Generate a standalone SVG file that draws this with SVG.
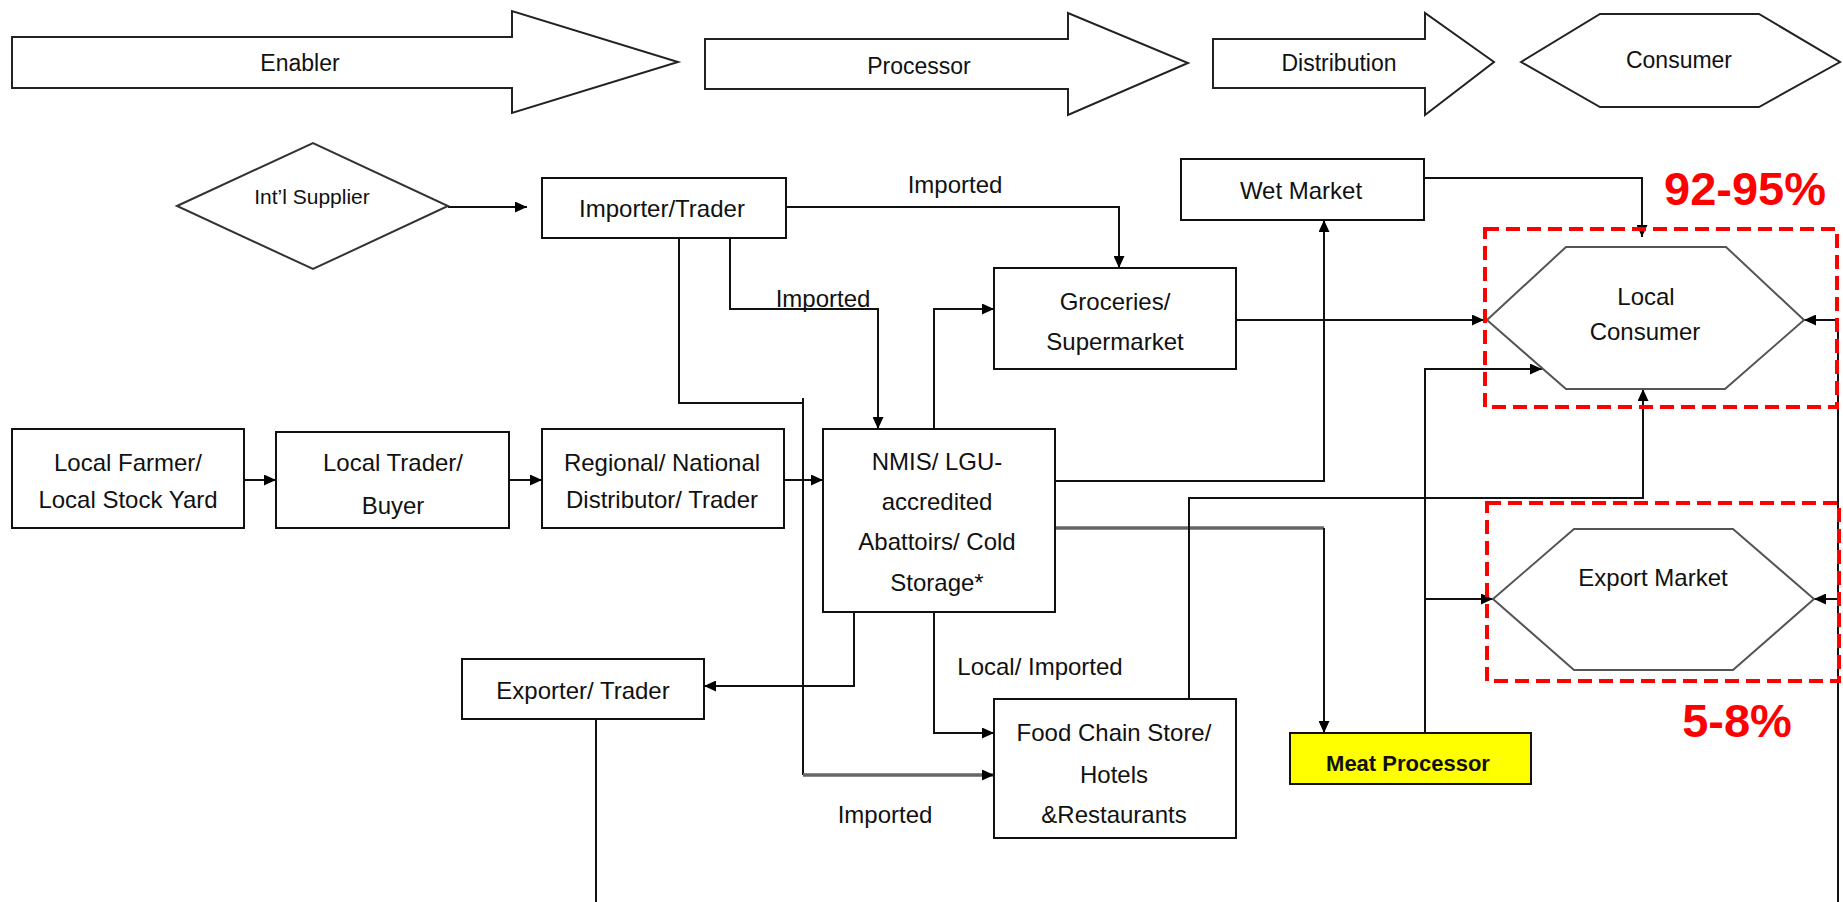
<svg xmlns="http://www.w3.org/2000/svg" width="1843" height="902" viewBox="0 0 1843 902">
<style>
.bg{fill:#fff}
.blk{fill:#fff;stroke:#222;stroke-width:2}
.box{fill:#fff;stroke:#111;stroke-width:2}
.hex{fill:#fff;stroke:#555;stroke-width:2}
.red{fill:none;stroke:#f00;stroke-width:4;stroke-dasharray:14 7}
.t{font-family:"Liberation Sans",Arial,sans-serif;font-size:24px;fill:#111;text-anchor:middle}
.h{font-size:23px}
.s{font-size:21px}
.b{font-weight:bold;font-size:22px}
.pct{font-family:"Liberation Sans",Arial,sans-serif;font-size:47px;font-weight:bold;fill:#f00;text-anchor:middle}
.c{fill:none;stroke:#111;stroke-width:2}
.g{fill:none;stroke:#666;stroke-width:3.5}
</style>
<defs>
<marker id="ah" markerUnits="userSpaceOnUse" markerWidth="12" markerHeight="11" refX="12" refY="5.5" orient="auto">
<path d="M0,0 L12,5.5 L0,11 z" fill="#000"/>
</marker>
</defs>
<rect class="bg" x="0" y="0" width="1843" height="902"/>

<g id="stage-enabler">
<polygon class="blk" points="12,37 512,37 512,11 678,62 512,113 512,88 12,88"/>
<text class="t h" x="300" y="71">Enabler</text>
</g>
<g id="stage-processor">
<polygon class="blk" points="705,39 1068,39 1068,13 1188,63 1068,115 1068,89 705,89"/>
<text class="t h" x="919" y="74">Processor</text>
</g>
<g id="stage-distribution">
<polygon class="blk" points="1213,39 1425,39 1425,13 1494,62 1425,115 1425,88 1213,88"/>
<text class="t h" x="1339" y="71">Distribution</text>
</g>
<g id="stage-consumer">
<polygon class="blk" points="1521,62 1600,14 1759,14 1840,62 1759,107 1600,107"/>
<text class="t h" x="1679" y="68">Consumer</text>
</g>

<g id="connectors">
<path class="c" d="M448,207 H527" marker-end="url(#ah)"/>
<path class="c" d="M786,207 H1119 V268" marker-end="url(#ah)"/>
<path class="c" d="M730,238 V309 H878 V429" marker-end="url(#ah)"/>
<path class="c" d="M679,238 V403 H803 V775"/>
<path class="c" d="M803,398 V403"/>
<path class="g" d="M803,775 H994" marker-end="url(#ah)"/>
<path class="c" d="M244,480 H276" marker-end="url(#ah)"/>
<path class="c" d="M509,480 H542" marker-end="url(#ah)"/>
<path class="c" d="M784,480 H823" marker-end="url(#ah)"/>
<path class="c" d="M934,429 V309 H994" marker-end="url(#ah)"/>
<path class="c" d="M1055,481 H1324 V220" marker-end="url(#ah)"/>
<path class="g" d="M1055,528 H1324"/>
<path class="c" d="M1324,528 V733" marker-end="url(#ah)"/>
<path class="c" d="M854,612 V686 H704" marker-end="url(#ah)"/>
<path class="c" d="M934,612 V733 H994" marker-end="url(#ah)"/>
<path class="c" d="M1236,320 H1484" marker-end="url(#ah)"/>
<path class="c" d="M1424,178 H1642 V237" marker-end="url(#ah)"/>
<path class="c" d="M1189,699 V498 H1643 V389" marker-end="url(#ah)"/>
<path class="c" d="M1425,733 V369 H1542" marker-end="url(#ah)"/>
<path class="c" d="M1425,599 H1493" marker-end="url(#ah)"/>
<path class="c" d="M596,719 V902"/>
<path class="c" d="M1838,902 V320 H1804" marker-end="url(#ah)"/>
<path class="c" d="M1838,599 H1814" marker-end="url(#ah)"/>
</g>

<g id="intl-supplier">
<polygon class="box" points="177,206 313,143 448,206 313,269" style="stroke:#333"/>
<text class="t s" x="312" y="204">Int’l Supplier</text>
</g>
<g id="importer-trader">
<rect class="box" x="542" y="178" width="244" height="60"/>
<text class="t" x="662" y="217">Importer/Trader</text>
</g>
<g id="wet-market">
<rect class="box" x="1181" y="159" width="243" height="61"/>
<text class="t" x="1301" y="199">Wet Market</text>
</g>
<g id="groceries">
<rect class="box" x="994" y="268" width="242" height="101"/>
<text class="t" x="1115" y="310">Groceries/</text>
<text class="t" x="1115" y="350">Supermarket</text>
</g>
<g id="local-farmer">
<rect class="box" x="12" y="429" width="232" height="99"/>
<text class="t" x="128" y="471">Local Farmer/</text>
<text class="t" x="128" y="508">Local Stock Yard</text>
</g>
<g id="local-trader">
<rect class="box" x="276" y="432" width="233" height="96"/>
<text class="t" x="393" y="471">Local Trader/</text>
<text class="t" x="393" y="514">Buyer</text>
</g>
<g id="regional-distributor">
<rect class="box" x="542" y="429" width="242" height="99"/>
<text class="t" x="662" y="471">Regional/ National</text>
<text class="t" x="662" y="508">Distributor/ Trader</text>
</g>
<g id="nmis">
<rect class="box" x="823" y="429" width="232" height="183"/>
<text class="t" x="937" y="470">NMIS/ LGU-</text>
<text class="t" x="937" y="510">accredited</text>
<text class="t" x="937" y="550">Abattoirs/ Cold</text>
<text class="t" x="937" y="591">Storage*</text>
</g>
<g id="exporter-trader">
<rect class="box" x="462" y="659" width="242" height="60"/>
<text class="t" x="583" y="699">Exporter/ Trader</text>
</g>
<g id="food-chain">
<rect class="box" x="994" y="699" width="242" height="139"/>
<text class="t" x="1114" y="741">Food Chain Store/</text>
<text class="t" x="1114" y="783">Hotels</text>
<text class="t" x="1114" y="823">&amp;Restaurants</text>
</g>
<g id="meat-processor">
<rect class="box" x="1290" y="733" width="241" height="51" style="fill:#ffff00"/>
<text class="t b" x="1408" y="771">Meat Processor</text>
</g>
<g id="local-consumer">
<polygon class="hex" points="1487,320 1566,247 1726,247 1804,320 1725,389 1566,389"/>
<text class="t" x="1646" y="305">Local</text>
<text class="t" x="1645" y="340">Consumer</text>
</g>
<g id="export-market">
<polygon class="hex" points="1493,599 1574,529 1733,529 1814,599 1733,670 1574,670"/>
<text class="t" x="1653" y="586">Export Market</text>
</g>

<g id="labels">
<text class="t" x="955" y="193">Imported</text>
<text class="t" x="823" y="307">Imported</text>
<text class="t" x="1040" y="675">Local/ Imported</text>
<text class="t" x="885" y="823">Imported</text>
</g>

<g id="highlights">
<rect class="red" x="1485" y="229" width="352" height="178"/>
<rect class="red" x="1487" y="503" width="352" height="178"/>
<text class="pct" x="1745" y="205">92-95%</text>
<text class="pct" x="1737" y="737">5-8%</text>
</g>
</svg>
